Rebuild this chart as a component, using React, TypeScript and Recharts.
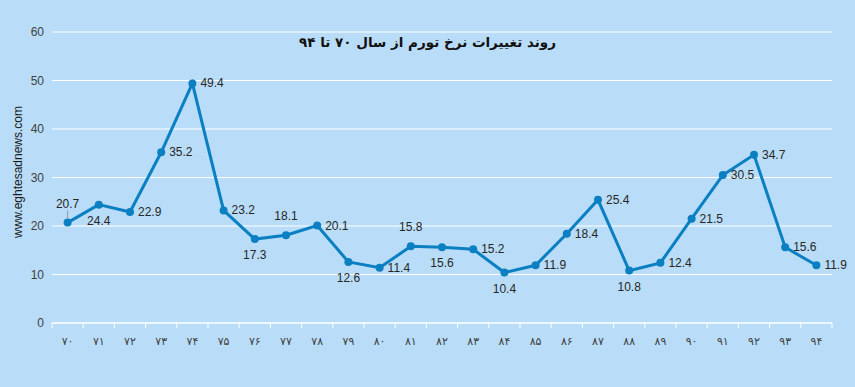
import { CartesianGrid, LabelList, Line, LineChart, XAxis, YAxis } from "recharts";

const years = ["۷۰", "۷۱", "۷۲", "۷۳", "۷۴", "۷۵", "۷۶", "۷۷", "۷۸", "۷۹", "۸۰", "۸۱", "۸۲", "۸۳", "۸۴", "۸۵", "۸۶", "۸۷", "۸۸", "۸۹", "۹۰", "۹۱", "۹۲", "۹۳", "۹۴"];
const inflation = [20.7, 24.4, 22.9, 35.2, 49.4, 23.2, 17.3, 18.1, 20.1, 12.6, 11.4, 15.8, 15.6, 15.2, 10.4, 11.9, 18.4, 25.4, 10.8, 12.4, 21.5, 30.5, 34.7, 15.6, 11.9];
const yTicks = [0, 10, 20, 30, 40, 50, 60];

// where each data label sits relative to its point (Excel placed these by hand)
const labelSide = ["above", "below", "right", "right", "right", "right", "below", "above", "right", "below", "right", "above", "below", "right", "below", "right", "right", "right", "below", "right", "right", "right", "right", "right", "right"];

const data = years.map((y, i) => ({ year: y, value: inflation[i] }));

const W = 855;
const H = 387;
const M = { top: 32, right: 23, bottom: 34, left: 12 };
const Y_AXIS_W = 40;
const plotW = W - M.left - M.right - Y_AXIS_W;
const step = plotW / years.length;

const BG = "#b9ddf8";
const LINE = "#0a7fc2";
const TEXT = "#262626";

function PointLabel(props: any) {
  const { x, y, value, index } = props;
  const side = labelSide[index];
  const style = { fontFamily: "Liberation Sans, sans-serif", fontSize: 12, fill: TEXT };
  if (side === "above") {
    return (
      <g>
        {index === 0 && <line x1={x} y1={y - 12} x2={x} y2={y - 4} stroke="#8a9aa8" strokeWidth={1} />}
        <text x={x} y={y - 15} textAnchor="middle" {...style}>{value}</text>
      </g>
    );
  }
  if (side === "below") {
    return <text x={x} y={y + 20} textAnchor="middle" {...style}>{value}</text>;
  }
  return <text x={x + 8} y={y + 4} textAnchor="start" {...style}>{value}</text>;
}

function YearTick(props: any) {
  const { x, y, payload, index } = props;
  return (
    <g>
      <line x1={x - step / 2} y1={y - 8} x2={x - step / 2} y2={y - 3} stroke="#ffffff" />
      {index === years.length - 1 && (
        <line x1={x + step / 2} y1={y - 8} x2={x + step / 2} y2={y - 3} stroke="#ffffff" />
      )}
      <text x={x} y={y + 14} textAnchor="middle" fontFamily="DejaVu Sans, sans-serif" fontSize={11} fill="#404040">
        {payload.value}
      </text>
    </g>
  );
}

export default function App() {
  return (
    <div style={{ position: "absolute", left: 0, top: 0, width: W, height: H, background: BG }}>
      <div
        style={{
          position: "absolute",
          top: 34,
          left: 0,
          width: W,
          textAlign: "center",
          fontFamily: "DejaVu Sans, sans-serif",
          fontWeight: "bold",
          fontSize: 13.5,
          color: "#111",
          direction: "rtl",
        }}
      >
        روند تغییرات نرخ تورم از سال ۷۰ تا ۹۴
      </div>
      <div
        style={{
          position: "absolute",
          left: 18,
          top: 172,
          transform: "translate(-50%, -50%) rotate(-90deg)",
          fontFamily: "Liberation Sans, sans-serif",
          fontSize: 12,
          color: "#1a1a1a",
          whiteSpace: "nowrap",
        }}
      >
        www.eghtesadnews.com
      </div>
      <LineChart width={W} height={H} data={data} margin={M} style={{ position: "absolute", left: 0, top: 0 }}>
        <CartesianGrid vertical={false} stroke="#ffffff" strokeWidth={1} />
        <XAxis
          dataKey="year"
          axisLine={{ stroke: "#ffffff", strokeWidth: 1 }}
          tickLine={false}
          tick={<YearTick />}
          interval={0}
          height={30}
          padding={{ left: step / 2, right: step / 2 }}
        />
        <YAxis
          domain={[0, 60]}
          ticks={yTicks}
          width={Y_AXIS_W}
          axisLine={false}
          tickLine={false}
          tick={{ fontFamily: "Liberation Sans, sans-serif", fontSize: 12, fill: "#404040" }}
        />
        <Line
          type="linear"
          dataKey="value"
          stroke={LINE}
          strokeWidth={3}
          dot={{ r: 4, fill: LINE, stroke: LINE, strokeWidth: 0 }}
          isAnimationActive={false}
        >
          <LabelList dataKey="value" content={<PointLabel />} />
        </Line>
      </LineChart>
    </div>
  );
}
